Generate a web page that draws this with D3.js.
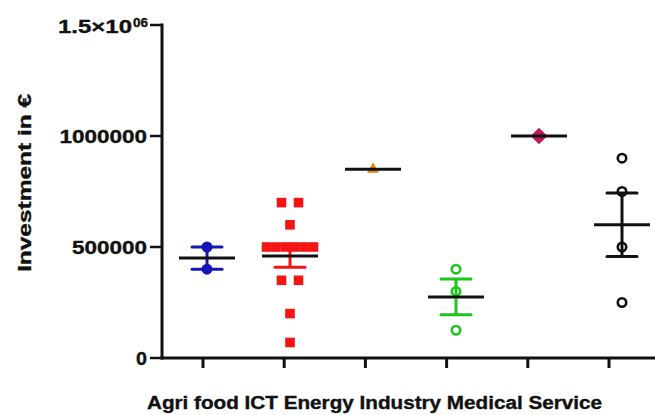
<!DOCTYPE html>
<html><head><meta charset="utf-8">
<script src="https://cdn.jsdelivr.net/npm/d3@7"></script>
<style>html,body{margin:0;padding:0;background:#fff;}svg{display:block;}text{font-family:"Liberation Sans",Arial,sans-serif;font-weight:bold;fill:#111;stroke:#111;stroke-width:0.35px;}</style>
</head><body>
<svg id="chart" width="655" height="415"></svg>
<script>
const categories = ["Agri food", "ICT", "Energy", "Industry", "Medical", "Service"];
const agriFood = [500000, 400000];
const ict = [700000, 700000, 600000, 500000, 500000, 500000, 500000, 500000, 500000, 350000, 350000, 200000, 70000];
const energy = [850000];
const industry = [400000, 300000, 125000];
const medical = [1000000];
const service = [900000, 750000, 500000, 250000];
const yTicks = [0, 500000, 1000000, 1500000];
const yTickLabels = ["0", "500000", "1000000", "1.5×10"];
const yTickSup = ["", "", "", "06"];
const yTitle = "Investment in €";

const seriesValues = [agriFood, ict, energy, industry, medical, service];
const colors = ["#1616b4", "#f41414", "#e8821c", "#1fc41f", "#c4185e", "#111111"];
const markerKind = ["filledCircle", "square", "triangle", "openCircle", "diamond", "openCircle"];

const svg = d3.select("#chart");
const y = d3.scaleLinear().domain([0, 1500000]).range([358, 25]);
const xTick = d3.scalePoint().domain(categories).range([203, 609]);
const xData = d3.scalePoint().domain(categories).range([207, 622]);

// axes
svg.append("line").attr("x1", 162).attr("x2", 162).attr("y1", y(1500000) - 1.5).attr("y2", y(0) + 1.5)
  .attr("stroke", "#111").attr("stroke-width", 3);
svg.append("line").attr("x1", 160.5).attr("x2", 655).attr("y1", y(0)).attr("y2", y(0))
  .attr("stroke", "#111").attr("stroke-width", 3);
yTicks.forEach((t, i) => {
  svg.append("line").attr("x1", 150).attr("x2", 162).attr("y1", y(t)).attr("y2", y(t))
    .attr("stroke", "#111").attr("stroke-width", 2.5);
  const lab = yTickLabels[i];
  if (yTickSup[i]) {
    svg.append("text").attr("x", 132).attr("y", y(t) + 8).attr("text-anchor", "end")
      .attr("font-size", 18).attr("textLength", 74).attr("lengthAdjust", "spacingAndGlyphs").text(lab);
    svg.append("text").attr("x", 133).attr("y", y(t) + 2).attr("text-anchor", "start")
      .attr("font-size", 12).attr("textLength", 15).attr("lengthAdjust", "spacingAndGlyphs").text(yTickSup[i]);
  } else {
    svg.append("text").attr("x", 147).attr("y", y(t) + 6.5).attr("text-anchor", "end")
      .attr("font-size", 18).attr("textLength", lab.length === 1 ? 11 : lab.length * 12.5)
      .attr("lengthAdjust", "spacingAndGlyphs").text(lab);
  }
});
categories.forEach(c => {
  svg.append("line").attr("x1", xTick(c)).attr("x2", xTick(c)).attr("y1", y(0)).attr("y2", y(0) + 10)
    .attr("stroke", "#111").attr("stroke-width", 3);
});
// x categories as a single line
svg.append("text").attr("x", 374.5).attr("y", 409).attr("text-anchor", "middle")
  .attr("font-size", 17.5).attr("textLength", 455).attr("lengthAdjust", "spacingAndGlyphs")
  .text(categories.join(" "));
// y title
svg.append("text").attr("transform", "translate(31,183) rotate(-90)").attr("text-anchor", "middle")
  .attr("font-size", 18.5).attr("textLength", 178).attr("lengthAdjust", "spacingAndGlyphs").text(yTitle);

// marks
const g = svg.append("g");
seriesValues.forEach((vals, si) => {
  const cat = categories[si];
  const cx = xData(cat);
  const col = colors[si];
  const kind = markerKind[si];
  const groups = d3.group(vals, v => v);
  groups.forEach((arr, v) => {
    const n = arr.length;
    const sp = n > 1 ? Math.min(17, 47 / (n - 1)) : 0;
    arr.forEach((_, k) => {
      const px = cx + (k - (n - 1) / 2) * sp;
      const py = y(v);
      let p;
      if (kind === "filledCircle") {
        p = g.append("path").attr("d", d3.symbol(d3.symbolCircle, 95)()).attr("fill", col);
      } else if (kind === "openCircle") {
        p = g.append("path").attr("d", d3.symbol(d3.symbolCircle, 56)()).attr("fill", "none")
          .attr("stroke", col).attr("stroke-width", 2.6);
      } else if (kind === "square") {
        p = g.append("path").attr("d", d3.symbol(d3.symbolSquare, 92)()).attr("fill", col);
      } else if (kind === "triangle") {
        p = g.append("path").attr("d", d3.symbol(d3.symbolTriangle, 62)()).attr("fill", col);
      } else {
        p = g.append("path").attr("d", d3.symbol(d3.symbolSquare, 140)()).attr("fill", col);
      }
      p.attr("transform", `translate(${px},${py})` + (kind === "diamond" ? " rotate(45)" : ""));
    });
  });
  const m = d3.mean(vals);
  if (vals.length > 1) {
    const sem = d3.deviation(vals) / Math.sqrt(vals.length);
    g.append("line").attr("x1", cx).attr("x2", cx).attr("y1", y(m + sem)).attr("y2", y(m - sem))
      .attr("stroke", col).attr("stroke-width", 3);
    [m + sem, m - sem].forEach(e => {
      g.append("line").attr("x1", cx - 15).attr("x2", cx + 15).attr("y1", y(e)).attr("y2", y(e))
        .attr("stroke", col).attr("stroke-width", 3).attr("stroke-linecap", "round");
    });
  }
  g.append("line").attr("x1", cx - 28).attr("x2", cx + 28).attr("y1", y(m)).attr("y2", y(m))
    .attr("stroke", "#111").attr("stroke-width", 3);
});
</script>
</body></html>
